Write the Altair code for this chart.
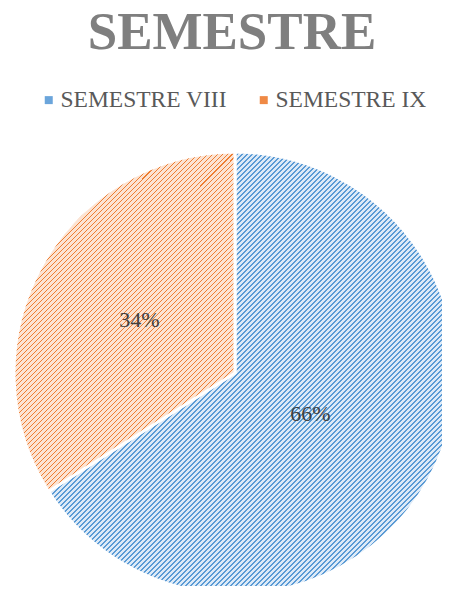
import math
import altair as alt
import pandas as pd

categories = ["SEMESTRE VIII", "SEMESTRE IX"]
values = [66, 34]
labels = ["66%", "34%"]
order = [0, 1]
line_colors = ["#5b9bd5", "#ed7d31"]
bg_colors = ["#ddeaf7", "#fce3d2"]
legend_colors = ["#6ba5db", "#ef8945"]
label_radius = [86, 109]

FONT = "Liberation Serif"

df = pd.DataFrame({"semestre": categories, "valor": values, "etiqueta": labels, "orden": order})

CX, CY, R = 227, 305, 221
TOTAL = sum(values)


def slice_bbox(a0, a1):
    pts = [(0.0, 0.0)]
    n = 720
    for i in range(n + 1):
        a = a0 + (a1 - a0) * i / n
        pts.append((R * math.sin(a), -R * math.cos(a)))
    xs = [p[0] for p in pts]
    ys = [p[1] for p in pts]
    return max(xs) - min(xs), max(ys) - min(ys)


def hatch(line, bg, w, h, period=5.0, frac=0.36):
    # 45 degree "/" stripes inside a bounding-box-relative linear gradient
    k = (w + h) / (w * w + h * h)
    n = (w + h) / period
    stops = []
    i = 0
    while i / n < 1:
        a = i / n
        b = min((i + frac) / n, 1.0)
        c = min((i + 1) / n, 1.0)
        stops += [
            {"offset": round(a, 6), "color": line},
            {"offset": round(b, 6), "color": line},
            {"offset": round(b, 6), "color": bg},
            {"offset": round(c, 6), "color": bg},
        ]
        i += 1
    return {"gradient": "linear", "x1": 0, "y1": 0, "x2": k * w, "y2": k * h, "stops": stops}


fills = []
start = 0.0
for v, lc, bc in zip(values, line_colors, bg_colors):
    a0 = 2 * math.pi * start / TOTAL
    a1 = 2 * math.pi * (start + v) / TOTAL
    w, h = slice_bbox(a0, a1)
    fills.append(hatch(lc, bc, w, h))
    start += v

base = (
    alt.Chart(df)
    .transform_stack(stack="valor", as_=["v0", "v1"], groupby=[], sort=[alt.SortField("orden")])
    .transform_calculate(mid="(datum.v0 + datum.v1) / 2")
)

theta_scale = alt.Scale(domain=[0, TOTAL])

layers = []
for cat, fill in zip(categories, fills):
    layers.append(
        base.transform_filter(alt.datum.semestre == cat)
        .mark_arc(outerRadius=R, stroke="white", strokeWidth=3, x=CX, y=CY, fill=fill)
        .encode(theta=alt.Theta("v0:Q", scale=theta_scale), theta2="v1:Q")
    )

for cat, rad in zip(categories, label_radius):
    layers.append(
        base.transform_filter(alt.datum.semestre == cat)
        .mark_text(radius=rad, x=CX, y=CY, font=FONT, fontSize=22, color="#404040")
        .encode(theta=alt.Theta("mid:Q", scale=theta_scale), text="etiqueta:N")
    )

legend_layer = alt.Chart(df).mark_square(size=0, x=CX, y=CY).encode(
    color=alt.Color(
        "semestre:N",
        scale=alt.Scale(domain=categories, range=legend_colors),
        legend=alt.Legend(
            title=None,
            orient="none",
            legendX=29,
            legendY=20,
            direction="horizontal",
            symbolType="square",
            symbolSize=64,
            symbolStrokeWidth=0,
            symbolOpacity=1,
            labelFont=FONT,
            labelFontSize=23.5,
            labelColor="#595959",
            labelOffset=0,
            labelLimit=300,
            columnPadding=25,
        ),
    )
)
layers.append(legend_layer)

chart = (
    alt.layer(*layers)
    .properties(
        width=434,
        height=518,
        autosize="none",
        padding={"left": 0, "top": 60, "right": 0, "bottom": 0},
        title=alt.TitleParams(
            "SEMESTRE",
            font=FONT,
            fontSize=53,
            fontWeight="bold",
            color="#7f7f7f",
            anchor="middle",
            dx=7,
            offset=8,
        ),
    )
    .configure_view(stroke=None)
)

chart.save("out.html", embed_options={"renderer": "svg", "actions": False})
